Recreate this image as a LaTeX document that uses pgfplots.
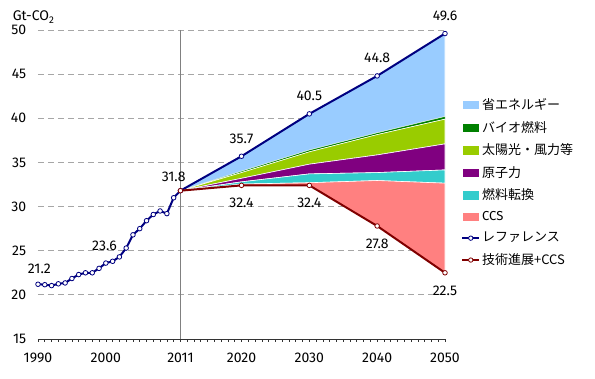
\documentclass[border=0pt]{standalone}
\usepackage{pgfplots}
\pgfplotsset{compat=1.18}
\usepgfplotslibrary{fillbetween}
\usepackage{fontspec}
\setmainfont{Fira Sans}
\newfontfamily\jp{Noto Sans CJK JP}
\definecolor{cEff}{HTML}{99CCFF}
\definecolor{cBio}{HTML}{008000}
\definecolor{cSol}{HTML}{99CC00}
\definecolor{cNuc}{HTML}{800080}
\definecolor{cFue}{HTML}{33CCCC}
\definecolor{cCCS}{HTML}{FF8080}
\definecolor{cRef}{HTML}{000080}
\definecolor{cTec}{HTML}{800000}
\pgfplotsset{
  arealeg/.style={legend image code/.code={\fill[##1] (0pt,-4.5pt) rectangle (17pt,5pt);}},
  lineleg/.style={legend image code/.code={\draw[##1,line width=1.6pt] (0pt,0pt) -- (17pt,0pt); \draw[##1,mark=none,fill=white,line width=0.8pt] (8.5pt,0pt) circle (2.2pt);}},
}
\begin{document}
\fontsize{14}{16}\selectfont
\begin{tikzpicture}
\begin{axis}[
  scale only axis, width=407pt, height=309pt,
  xmin=1990, xmax=2050, ymin=15, ymax=50,
  axis x line*=bottom, axis y line*=left,
  x axis line style={-, black!80, line width=0.8pt},
  y axis line style={draw=none},
  xtick={1990,2000,2011,2020,2030,2040,2050},
  minor xtick={1990,...,2050},
  ytick={15,20,...,50},
  ytick style={draw=none},
  xtick style={black!80, line width=0.6pt},
  minor tick style={black!80, line width=0.6pt},
  tick align=outside, major tick length=3pt, minor tick length=3pt,
  /pgf/number format/assume math mode=true,
  /pgf/number format/1000 sep={},
  tick label style={font=\fontsize{14}{16}\selectfont},
  xticklabel style={yshift=-6pt},
  yticklabel style={xshift=-4pt},
  ymajorgrids,
  grid style={gray!70, line width=0.9pt, dash pattern=on 6pt off 4pt},
  legend cell align=left,
  legend style={draw=none, fill=none, at={(1.04,0.785)}, anchor=north west,
    font=\fontsize{13}{15}\selectfont, row sep=5.5pt, inner sep=0pt},
  clip=false,
]
\coordinate (SW) at (rel axis cs:0,0);
\draw[gray, line width=1.3pt] (axis cs:2011,15) -- (axis cs:2011,50);
% boundaries
\addplot[draw=none, forget plot, name path=L0] coordinates {(2011,31.8)(2020,32.4)(2030,32.4)(2040,27.8)(2050,22.5)};
\addplot[draw=none, forget plot, name path=L1] coordinates {(2011,31.8)(2020,32.55)(2030,32.7)(2040,32.95)(2050,32.65)};
\addplot[draw=none, forget plot, name path=L2] coordinates {(2011,31.8)(2020,32.8)(2030,33.7)(2040,33.85)(2050,34.15)};
\addplot[draw=none, forget plot, name path=L3] coordinates {(2011,31.8)(2020,33.2)(2030,34.8)(2040,35.85)(2050,37.1)};
\addplot[draw=none, forget plot, name path=L4] coordinates {(2011,31.8)(2020,33.85)(2030,36.2)(2040,38.15)(2050,39.9)};
\addplot[draw=none, forget plot, name path=L5] coordinates {(2011,31.8)(2020,34.0)(2030,36.4)(2040,38.35)(2050,40.2)};
\addplot[draw=none, forget plot, name path=L6] coordinates {(2011,31.8)(2020,35.7)(2030,40.5)(2040,44.8)(2050,49.6)};
\addplot[fill=cEff, draw=white, line width=0.6pt, arealeg] fill between[of=L6 and L5];
\addlegendentry{\jp 省エネルギー}
\addplot[fill=cBio, draw=white, line width=0.3pt, arealeg] fill between[of=L5 and L4];
\addlegendentry{\jp バイオ燃料}
\addplot[fill=cSol, draw=white, line width=0.6pt, arealeg] fill between[of=L4 and L3];
\addlegendentry{\jp 太陽光・風力等}
\addplot[fill=cNuc, draw=white, line width=0.6pt, arealeg] fill between[of=L3 and L2];
\addlegendentry{\jp 原子力}
\addplot[fill=cFue, draw=white, line width=0.6pt, arealeg] fill between[of=L2 and L1];
\addlegendentry{\jp 燃料転換}
\addplot[fill=cCCS, draw=white, line width=0.6pt, arealeg] fill between[of=L1 and L0];
\addlegendentry{CCS}
% reference line
\addplot[cRef, line width=2pt, mark=*, mark size=2.3pt, mark options={fill=white, draw=cRef, line width=0.8pt}, lineleg] coordinates {
(1990,21.2)(1991,21.15)(1992,21.05)(1993,21.25)(1994,21.35)(1995,21.85)(1996,22.3)(1997,22.5)(1998,22.5)(1999,23.0)
(2000,23.6)(2001,23.8)(2002,24.3)(2003,25.3)(2004,26.8)(2005,27.5)(2006,28.4)(2007,29.1)(2008,29.5)(2009,29.2)(2010,31.0)
(2011,31.8)(2020,35.7)(2030,40.5)(2040,44.8)(2050,49.6)};
\addlegendentry{\jp レファレンス}
\addplot[cTec, line width=2pt, mark=*, mark size=2.3pt, mark options={fill=white, draw=cTec, line width=0.8pt}, lineleg] coordinates {
(2011,31.8)(2020,32.4)(2030,32.4)(2040,27.8)(2050,22.5)};
\addlegendentry{\jp 技術進展+CCS}
% value labels
\node[anchor=south] at (axis cs:1990.2,21.9) {21.2};
\node[anchor=south] at (axis cs:1999.8,24.4) {23.6};
\node[anchor=south] at (axis cs:2010.0,32.3) {31.8};
\node[anchor=south] at (axis cs:2020,36.6) {35.7};
\node[anchor=south] at (axis cs:2030,41.4) {40.5};
\node[anchor=south] at (axis cs:2040,45.7) {44.8};
\node[anchor=south] at (axis cs:2050,50.5) {49.6};
\node[anchor=north] at (axis cs:2020,31.5) {32.4};
\node[anchor=north] at (axis cs:2030,31.5) {32.4};
\node[anchor=north] at (axis cs:2040,26.9) {27.8};
\node[anchor=north] at (axis cs:2050,21.6) {22.5};
\node[anchor=base west, inner sep=0pt] at ([xshift=-25.3pt, yshift=9pt]rel axis cs:0,1) {Gt-CO\textsubscript{2}};
\end{axis}
\path (SW) ++(-38pt,-40pt) rectangle ++(595pt,379pt);
\end{tikzpicture}
\end{document}
